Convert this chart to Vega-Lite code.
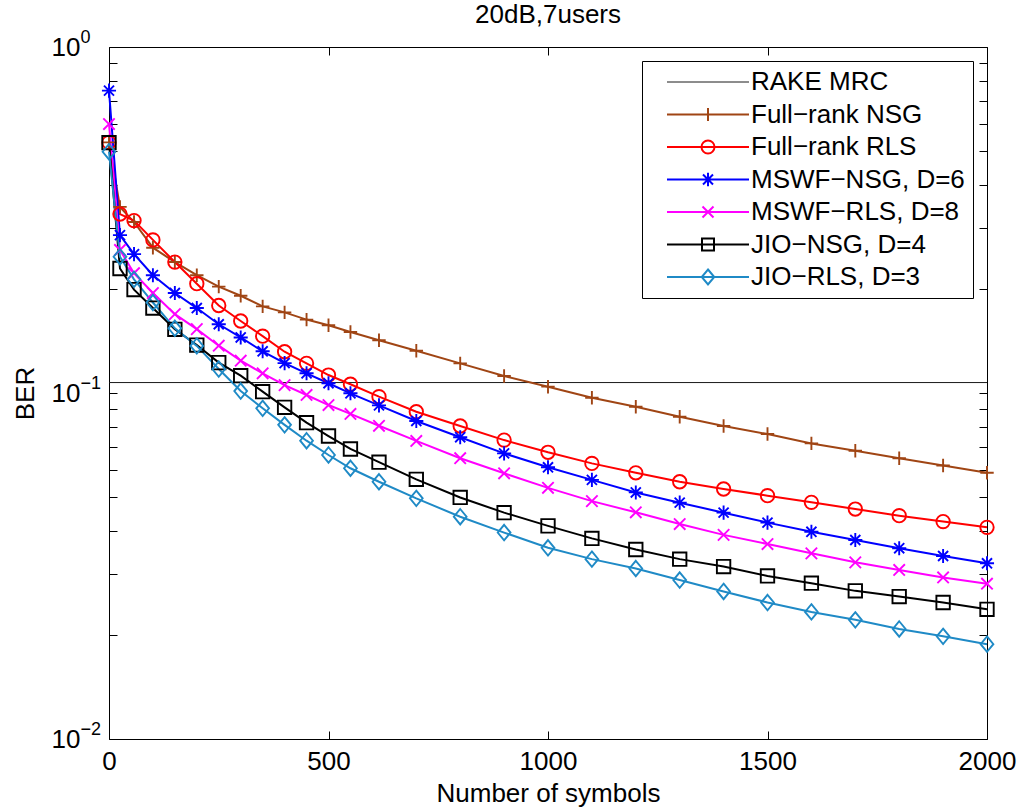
{
  "$schema": "https://vega.github.io/schema/vega-lite/v6.json",
  "width": 878,
  "height": 692,
  "autosize": {"type": "none"},
  "padding": {"left": 109, "top": 47, "right": 33, "bottom": 73},
  "background": "white",
  "title": {"text": "20dB,7users", "fontSize": 26, "font": "Liberation Sans", "fontWeight": "normal", "color": "black", "offset": -21, "baseline": "alphabetic", "anchor": "middle"},
  "datasets": {
    "rake": [{"series": "RAKE MRC", "ber": 0.1072}],
    "curves": [
      {"series": "Full−rank NSG", "symbols": 0, "ber": 0.53},
      {"series": "Full−rank NSG", "symbols": 25, "ber": 0.345},
      {"series": "Full−rank NSG", "symbols": 57, "ber": 0.312},
      {"series": "Full−rank NSG", "symbols": 100, "ber": 0.263},
      {"series": "Full−rank NSG", "symbols": 150, "ber": 0.239},
      {"series": "Full−rank NSG", "symbols": 200, "ber": 0.219},
      {"series": "Full−rank NSG", "symbols": 250, "ber": 0.203},
      {"series": "Full−rank NSG", "symbols": 300, "ber": 0.191},
      {"series": "Full−rank NSG", "symbols": 350, "ber": 0.178},
      {"series": "Full−rank NSG", "symbols": 400, "ber": 0.171},
      {"series": "Full−rank NSG", "symbols": 450, "ber": 0.163},
      {"series": "Full−rank NSG", "symbols": 500, "ber": 0.157},
      {"series": "Full−rank NSG", "symbols": 550, "ber": 0.150},
      {"series": "Full−rank NSG", "symbols": 615, "ber": 0.142},
      {"series": "Full−rank NSG", "symbols": 700, "ber": 0.1325},
      {"series": "Full−rank NSG", "symbols": 800, "ber": 0.1218},
      {"series": "Full−rank NSG", "symbols": 900, "ber": 0.112},
      {"series": "Full−rank NSG", "symbols": 1000, "ber": 0.1043},
      {"series": "Full−rank NSG", "symbols": 1100, "ber": 0.0969},
      {"series": "Full−rank NSG", "symbols": 1200, "ber": 0.0913},
      {"series": "Full−rank NSG", "symbols": 1300, "ber": 0.0854},
      {"series": "Full−rank NSG", "symbols": 1400, "ber": 0.0803},
      {"series": "Full−rank NSG", "symbols": 1500, "ber": 0.0761},
      {"series": "Full−rank NSG", "symbols": 1600, "ber": 0.0715},
      {"series": "Full−rank NSG", "symbols": 1700, "ber": 0.0681},
      {"series": "Full−rank NSG", "symbols": 1800, "ber": 0.0648},
      {"series": "Full−rank NSG", "symbols": 1900, "ber": 0.0617},
      {"series": "Full−rank NSG", "symbols": 2000, "ber": 0.0588},

      {"series": "Full−rank RLS", "symbols": 0, "ber": 0.53},
      {"series": "Full−rank RLS", "symbols": 25, "ber": 0.329},
      {"series": "Full−rank RLS", "symbols": 57, "ber": 0.315},
      {"series": "Full−rank RLS", "symbols": 100, "ber": 0.277},
      {"series": "Full−rank RLS", "symbols": 150, "ber": 0.239},
      {"series": "Full−rank RLS", "symbols": 200, "ber": 0.207},
      {"series": "Full−rank RLS", "symbols": 250, "ber": 0.179},
      {"series": "Full−rank RLS", "symbols": 300, "ber": 0.1615},
      {"series": "Full−rank RLS", "symbols": 350, "ber": 0.146},
      {"series": "Full−rank RLS", "symbols": 400, "ber": 0.1316},
      {"series": "Full−rank RLS", "symbols": 450, "ber": 0.1218},
      {"series": "Full−rank RLS", "symbols": 500, "ber": 0.1127},
      {"series": "Full−rank RLS", "symbols": 550, "ber": 0.106},
      {"series": "Full−rank RLS", "symbols": 615, "ber": 0.0976},
      {"series": "Full−rank RLS", "symbols": 700, "ber": 0.0883},
      {"series": "Full−rank RLS", "symbols": 800, "ber": 0.0803},
      {"series": "Full−rank RLS", "symbols": 900, "ber": 0.0731},
      {"series": "Full−rank RLS", "symbols": 1000, "ber": 0.0674},
      {"series": "Full−rank RLS", "symbols": 1100, "ber": 0.0626},
      {"series": "Full−rank RLS", "symbols": 1200, "ber": 0.0588},
      {"series": "Full−rank RLS", "symbols": 1300, "ber": 0.0554},
      {"series": "Full−rank RLS", "symbols": 1400, "ber": 0.0528},
      {"series": "Full−rank RLS", "symbols": 1500, "ber": 0.0505},
      {"series": "Full−rank RLS", "symbols": 1600, "ber": 0.0483},
      {"series": "Full−rank RLS", "symbols": 1700, "ber": 0.0462},
      {"series": "Full−rank RLS", "symbols": 1800, "ber": 0.0442},
      {"series": "Full−rank RLS", "symbols": 1900, "ber": 0.0425},
      {"series": "Full−rank RLS", "symbols": 2000, "ber": 0.0409},

      {"series": "MSWF−NSG, D=6", "symbols": 0, "ber": 0.748},
      {"series": "MSWF−NSG, D=6", "symbols": 25, "ber": 0.286},
      {"series": "MSWF−NSG, D=6", "symbols": 57, "ber": 0.252},
      {"series": "MSWF−NSG, D=6", "symbols": 100, "ber": 0.219},
      {"series": "MSWF−NSG, D=6", "symbols": 150, "ber": 0.1945},
      {"series": "MSWF−NSG, D=6", "symbols": 200, "ber": 0.176},
      {"series": "MSWF−NSG, D=6", "symbols": 250, "ber": 0.158},
      {"series": "MSWF−NSG, D=6", "symbols": 300, "ber": 0.1447},
      {"series": "MSWF−NSG, D=6", "symbols": 350, "ber": 0.132},
      {"series": "MSWF−NSG, D=6", "symbols": 400, "ber": 0.122},
      {"series": "MSWF−NSG, D=6", "symbols": 450, "ber": 0.114},
      {"series": "MSWF−NSG, D=6", "symbols": 500, "ber": 0.1067},
      {"series": "MSWF−NSG, D=6", "symbols": 550, "ber": 0.0998},
      {"series": "MSWF−NSG, D=6", "symbols": 615, "ber": 0.0921},
      {"series": "MSWF−NSG, D=6", "symbols": 700, "ber": 0.083},
      {"series": "MSWF−NSG, D=6", "symbols": 800, "ber": 0.0745},
      {"series": "MSWF−NSG, D=6", "symbols": 900, "ber": 0.0669},
      {"series": "MSWF−NSG, D=6", "symbols": 1000, "ber": 0.061},
      {"series": "MSWF−NSG, D=6", "symbols": 1100, "ber": 0.0561},
      {"series": "MSWF−NSG, D=6", "symbols": 1200, "ber": 0.0516},
      {"series": "MSWF−NSG, D=6", "symbols": 1300, "ber": 0.0482},
      {"series": "MSWF−NSG, D=6", "symbols": 1400, "ber": 0.0451},
      {"series": "MSWF−NSG, D=6", "symbols": 1500, "ber": 0.0422},
      {"series": "MSWF−NSG, D=6", "symbols": 1600, "ber": 0.0397},
      {"series": "MSWF−NSG, D=6", "symbols": 1700, "ber": 0.0376},
      {"series": "MSWF−NSG, D=6", "symbols": 1800, "ber": 0.0356},
      {"series": "MSWF−NSG, D=6", "symbols": 1900, "ber": 0.0338},
      {"series": "MSWF−NSG, D=6", "symbols": 2000, "ber": 0.0322},

      {"series": "MSWF−RLS, D=8", "symbols": 0, "ber": 0.599},
      {"series": "MSWF−RLS, D=8", "symbols": 25, "ber": 0.259},
      {"series": "MSWF−RLS, D=8", "symbols": 57, "ber": 0.222},
      {"series": "MSWF−RLS, D=8", "symbols": 100, "ber": 0.1945},
      {"series": "MSWF−RLS, D=8", "symbols": 150, "ber": 0.169},
      {"series": "MSWF−RLS, D=8", "symbols": 200, "ber": 0.153},
      {"series": "MSWF−RLS, D=8", "symbols": 250, "ber": 0.137},
      {"series": "MSWF−RLS, D=8", "symbols": 300, "ber": 0.124},
      {"series": "MSWF−RLS, D=8", "symbols": 350, "ber": 0.114},
      {"series": "MSWF−RLS, D=8", "symbols": 400, "ber": 0.1054},
      {"series": "MSWF−RLS, D=8", "symbols": 450, "ber": 0.0987},
      {"series": "MSWF−RLS, D=8", "symbols": 500, "ber": 0.0923},
      {"series": "MSWF−RLS, D=8", "symbols": 550, "ber": 0.087},
      {"series": "MSWF−RLS, D=8", "symbols": 615, "ber": 0.0804},
      {"series": "MSWF−RLS, D=8", "symbols": 700, "ber": 0.0727},
      {"series": "MSWF−RLS, D=8", "symbols": 800, "ber": 0.0648},
      {"series": "MSWF−RLS, D=8", "symbols": 900, "ber": 0.0586},
      {"series": "MSWF−RLS, D=8", "symbols": 1000, "ber": 0.0532},
      {"series": "MSWF−RLS, D=8", "symbols": 1100, "ber": 0.0487},
      {"series": "MSWF−RLS, D=8", "symbols": 1200, "ber": 0.0452},
      {"series": "MSWF−RLS, D=8", "symbols": 1300, "ber": 0.0418},
      {"series": "MSWF−RLS, D=8", "symbols": 1400, "ber": 0.0389},
      {"series": "MSWF−RLS, D=8", "symbols": 1500, "ber": 0.0366},
      {"series": "MSWF−RLS, D=8", "symbols": 1600, "ber": 0.0344},
      {"series": "MSWF−RLS, D=8", "symbols": 1700, "ber": 0.0324},
      {"series": "MSWF−RLS, D=8", "symbols": 1800, "ber": 0.0308},
      {"series": "MSWF−RLS, D=8", "symbols": 1900, "ber": 0.0293},
      {"series": "MSWF−RLS, D=8", "symbols": 2000, "ber": 0.0281},

      {"series": "JIO−NSG, D=4", "symbols": 0, "ber": 0.529},
      {"series": "JIO−NSG, D=4", "symbols": 25, "ber": 0.229},
      {"series": "JIO−NSG, D=4", "symbols": 57, "ber": 0.199},
      {"series": "JIO−NSG, D=4", "symbols": 100, "ber": 0.176},
      {"series": "JIO−NSG, D=4", "symbols": 150, "ber": 0.1528},
      {"series": "JIO−NSG, D=4", "symbols": 200, "ber": 0.1376},
      {"series": "JIO−NSG, D=4", "symbols": 250, "ber": 0.1224},
      {"series": "JIO−NSG, D=4", "symbols": 300, "ber": 0.1122},
      {"series": "JIO−NSG, D=4", "symbols": 350, "ber": 0.1009},
      {"series": "JIO−NSG, D=4", "symbols": 400, "ber": 0.0909},
      {"series": "JIO−NSG, D=4", "symbols": 450, "ber": 0.0821},
      {"series": "JIO−NSG, D=4", "symbols": 500, "ber": 0.0751},
      {"series": "JIO−NSG, D=4", "symbols": 550, "ber": 0.0689},
      {"series": "JIO−NSG, D=4", "symbols": 615, "ber": 0.0631},
      {"series": "JIO−NSG, D=4", "symbols": 700, "ber": 0.0563},
      {"series": "JIO−NSG, D=4", "symbols": 800, "ber": 0.0499},
      {"series": "JIO−NSG, D=4", "symbols": 900, "ber": 0.0451},
      {"series": "JIO−NSG, D=4", "symbols": 1000, "ber": 0.0413},
      {"series": "JIO−NSG, D=4", "symbols": 1100, "ber": 0.038},
      {"series": "JIO−NSG, D=4", "symbols": 1200, "ber": 0.0353},
      {"series": "JIO−NSG, D=4", "symbols": 1300, "ber": 0.0331},
      {"series": "JIO−NSG, D=4", "symbols": 1400, "ber": 0.0315},
      {"series": "JIO−NSG, D=4", "symbols": 1500, "ber": 0.0296},
      {"series": "JIO−NSG, D=4", "symbols": 1600, "ber": 0.0282},
      {"series": "JIO−NSG, D=4", "symbols": 1700, "ber": 0.0268},
      {"series": "JIO−NSG, D=4", "symbols": 1800, "ber": 0.0258},
      {"series": "JIO−NSG, D=4", "symbols": 1900, "ber": 0.0248},
      {"series": "JIO−NSG, D=4", "symbols": 2000, "ber": 0.0237},

      {"series": "JIO−RLS, D=3", "symbols": 0, "ber": 0.498},
      {"series": "JIO−RLS, D=3", "symbols": 25, "ber": 0.2476},
      {"series": "JIO−RLS, D=3", "symbols": 57, "ber": 0.2131},
      {"series": "JIO−RLS, D=3", "symbols": 100, "ber": 0.1826},
      {"series": "JIO−RLS, D=3", "symbols": 150, "ber": 0.1538},
      {"series": "JIO−RLS, D=3", "symbols": 200, "ber": 0.1368},
      {"series": "JIO−RLS, D=3", "symbols": 250, "ber": 0.1173},
      {"series": "JIO−RLS, D=3", "symbols": 300, "ber": 0.1013},
      {"series": "JIO−RLS, D=3", "symbols": 350, "ber": 0.0903},
      {"series": "JIO−RLS, D=3", "symbols": 400, "ber": 0.0809},
      {"series": "JIO−RLS, D=3", "symbols": 450, "ber": 0.0728},
      {"series": "JIO−RLS, D=3", "symbols": 500, "ber": 0.0662},
      {"series": "JIO−RLS, D=3", "symbols": 550, "ber": 0.0606},
      {"series": "JIO−RLS, D=3", "symbols": 615, "ber": 0.0554},
      {"series": "JIO−RLS, D=3", "symbols": 700, "ber": 0.0496},
      {"series": "JIO−RLS, D=3", "symbols": 800, "ber": 0.0439},
      {"series": "JIO−RLS, D=3", "symbols": 900, "ber": 0.0395},
      {"series": "JIO−RLS, D=3", "symbols": 1000, "ber": 0.0357},
      {"series": "JIO−RLS, D=3", "symbols": 1100, "ber": 0.0331},
      {"series": "JIO−RLS, D=3", "symbols": 1200, "ber": 0.0311},
      {"series": "JIO−RLS, D=3", "symbols": 1300, "ber": 0.0288},
      {"series": "JIO−RLS, D=3", "symbols": 1400, "ber": 0.0267},
      {"series": "JIO−RLS, D=3", "symbols": 1500, "ber": 0.0248},
      {"series": "JIO−RLS, D=3", "symbols": 1600, "ber": 0.0233},
      {"series": "JIO−RLS, D=3", "symbols": 1700, "ber": 0.0221},
      {"series": "JIO−RLS, D=3", "symbols": 1800, "ber": 0.0208},
      {"series": "JIO−RLS, D=3", "symbols": 1900, "ber": 0.0198},
      {"series": "JIO−RLS, D=3", "symbols": 2000, "ber": 0.0188}
    ]
  },
  "layer": [
    {
      "data": {"name": "rake"},
      "mark": {"type": "rule", "strokeWidth": 1},
      "encoding": {
        "y": {
          "field": "ber", "type": "quantitative",
          "scale": {"type": "log", "domain": [0.01, 1], "nice": false},
          "axis": {
            "orient": "left",
            "values": [0.01,0.02,0.03,0.04,0.05,0.06,0.07,0.08,0.09,0.1,0.2,0.3,0.4,0.5,0.6,0.7,0.8,0.9,1],
            "labelExpr": "abs(log(datum.value)/LN10 - round(log(datum.value)/LN10)) < 0.000001 ? '10' : ''",
            "tickSize": -8, "labelPadding": 37, "labelOverlap": false, "labelBound": false,
            "labelBaseline": "middle", "labelAlign": "right",
            "title": "BER", "titlePadding": 13,
            "domain": true
          }
        },
        "color": {
          "field": "series", "type": "nominal",
          "scale": {
            "domain": ["RAKE MRC", "Full−rank NSG", "Full−rank RLS", "MSWF−NSG, D=6", "MSWF−RLS, D=8", "JIO−NSG, D=4", "JIO−RLS, D=3"],
            "range": ["#1a1a1a", "#A04514", "#FF0000", "#0000FF", "#FF00FF", "#000000", "#1F8AC6"]
          },
          "legend": {
            "title": null,
            "orient": "top-right",
            "offset": 14,
            "strokeColor": "black",
            "fillColor": "white",
            "padding": 8,
            "labelFont": "Liberation Sans",
            "labelFontSize": 26,
            "labelColor": "black",
            "labelLimit": 500,
            "symbolSize": 100,
            "symbolOffset": 45,
            "labelOffset": 30,
            "rowPadding": 6.5,
            "encode": {
              "symbols": {
                "update": {
                  "shape": {"signal": "['M-8.2,0H8.2', 'M-8.2,0H8.2M0,-1.3V1.3', 'M-8.2,0H8.2M1.3,0A1.3,1.3,0,1,1,-1.3,0A1.3,1.3,0,1,1,1.3,0', 'M-8.2,0H8.2M0,-1.35V1.35M-1,-1L1,1M-1,1L1,-1', 'M-8.2,0H8.2M-1.1,-1.1L1.1,1.1M-1.1,1.1L1.1,-1.1', 'M-8.2,0H8.2M-1.2,-1.2H1.2V1.2H-1.2Z', 'M-8.2,0H8.2M0,-1.5L1.25,0L0,1.5L-1.25,0Z'][indexof(['RAKE MRC', 'Full−rank NSG', 'Full−rank RLS', 'MSWF−NSG, D=6', 'MSWF−RLS, D=8', 'JIO−NSG, D=4', 'JIO−RLS, D=3'], datum.value)]"},
                  "fill": {"value": "transparent"},
                  "stroke": {"scale": "color", "field": "value"},
                  "strokeWidth": {"signal": "datum.value === 'RAKE MRC' ? 1 : 2"},
                  "opacity": {"value": 1},
                  "size": {"value": 100}
                }
              }
            }
          }
        }
      }
    },
    {
      "data": {"name": "curves"},
      "mark": {"type": "line", "strokeWidth": 2},
      "encoding": {
        "x": {
          "field": "symbols", "type": "quantitative",
          "scale": {"domain": [0, 2000], "nice": false, "zero": false},
          "axis": {
            "orient": "bottom",
            "values": [0, 500, 1000, 1500, 2000],
            "format": "d",
            "tickSize": -8, "labelPadding": 17, "labelFlush": false, "labelOverlap": false,
            "title": "Number of symbols", "titlePadding": 6,
            "domain": true
          }
        },
        "y": {
          "field": "ber", "type": "quantitative",
          "scale": {"type": "log", "domain": [0.01, 1], "nice": false},
          "axis": {
            "orient": "left",
            "values": [0.01, 0.1, 1],
            "labelExpr": "round(log(datum.value)/LN10) == 0 ? '0' : '−' + abs(round(log(datum.value)/LN10))",
            "ticks": false, "tickSize": 0, "domain": false,
            "labelPadding": 29, "labelAlign": "left", "labelBaseline": "middle",
            "labelFontSize": 18, "labelOffset": -10, "labelOverlap": false, "labelBound": false,
            "title": null
          }
        },
        "color": {
          "field": "series", "type": "nominal",
          "scale": {
            "domain": ["RAKE MRC", "Full−rank NSG", "Full−rank RLS", "MSWF−NSG, D=6", "MSWF−RLS, D=8", "JIO−NSG, D=4", "JIO−RLS, D=3"],
            "range": ["#1a1a1a", "#A04514", "#FF0000", "#0000FF", "#FF00FF", "#000000", "#1F8AC6"]
          }
        },
        "order": {"field": "symbols", "type": "quantitative"}
      }
    },
    {
      "data": {"name": "curves"},
      "mark": {"type": "point", "filled": false, "strokeWidth": 1.9, "size": 180, "opacity": 1},
      "encoding": {
        "x": {
          "field": "symbols", "type": "quantitative",
          "scale": {"domain": [0, 2000], "nice": false, "zero": false},
          "axis": {
            "orient": "top",
            "values": [0, 500, 1000, 1500, 2000],
            "labels": false, "tickSize": -8, "domain": true, "title": null
          }
        },
        "y": {
          "field": "ber", "type": "quantitative",
          "scale": {"type": "log", "domain": [0.01, 1], "nice": false},
          "axis": {
            "orient": "right",
            "values": [0.01,0.02,0.03,0.04,0.05,0.06,0.07,0.08,0.09,0.1,0.2,0.3,0.4,0.5,0.6,0.7,0.8,0.9,1],
            "labels": false, "tickSize": -8, "domain": true, "title": null
          }
        },
        "color": {
          "field": "series", "type": "nominal",
          "scale": {
            "domain": ["RAKE MRC", "Full−rank NSG", "Full−rank RLS", "MSWF−NSG, D=6", "MSWF−RLS, D=8", "JIO−NSG, D=4", "JIO−RLS, D=3"],
            "range": ["#1a1a1a", "#A04514", "#FF0000", "#0000FF", "#FF00FF", "#000000", "#1F8AC6"]
          }
        },
        "shape": {
          "field": "series", "type": "nominal",
          "scale": {
            "domain": ["Full−rank NSG", "Full−rank RLS", "MSWF−NSG, D=6", "MSWF−RLS, D=8", "JIO−NSG, D=4", "JIO−RLS, D=3"],
            "range": ["M-1,0H1M0,-1V1", "circle", "M-1.05,0H1.05M0,-1.05V1.05M-0.75,-0.75L0.75,0.75M-0.75,0.75L0.75,-0.75", "M-0.85,-0.85L0.85,0.85M-0.85,0.85L0.85,-0.85", "square", "M0,-1.15L0.95,0L0,1.15L-0.95,0Z"]
          },
          "legend": null
        }
      }
    }
  ],
  "resolve": {"axis": {"x": "independent", "y": "independent"}},
  "config": {
    "view": {"stroke": null},
    "axis": {
      "labelFont": "Liberation Sans", "titleFont": "Liberation Sans",
      "labelFontSize": 26, "titleFontSize": 26, "titleFontWeight": "normal",
      "labelColor": "black", "titleColor": "black",
      "domainColor": "black", "domainWidth": 1, "tickColor": "black", "tickWidth": 1,
      "grid": false
    }
  }
}
